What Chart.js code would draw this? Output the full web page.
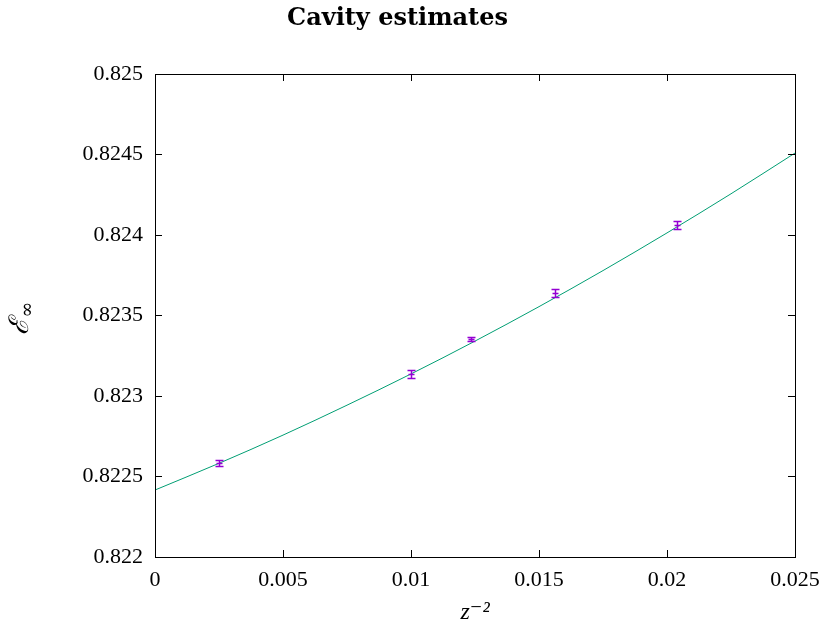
<!DOCTYPE html>
<html lang="en">
<head>
    <meta charset="UTF-8">
    <title>Cavity estimates</title>
    <script src="https://cdn.jsdelivr.net/npm/chart.js"></script>
    <style>
        body { margin: 0; background: #fff; }
        #wrap { width: 824px; height: 632px; }
    </style>
</head>
<body>
    <div id="wrap"><canvas id="cavityChart" width="824" height="632"></canvas></div>

    <script>
        // measured estimates (x = z^-2)
        const zInvSq = [0.0025, 0.01, 0.012346, 0.015625, 0.020408];
        const energy = [0.822584, 0.823137, 0.823354, 0.823640, 0.824062];
        const energyErr = [0.000018, 0.000025, 0.000012, 0.000025, 0.000025];

        // fitted curve
        const fitX = [0, 0.0025, 0.005, 0.0075, 0.01, 0.0125, 0.015, 0.0175, 0.02, 0.0225, 0.025];
        const fitY = [0.822416, 0.822582, 0.822757, 0.822943, 0.823137, 0.823341, 0.823555, 0.823779, 0.824013, 0.824256, 0.824509];

        const xTicks = [0, 0.005, 0.01, 0.015, 0.02, 0.025];
        const xTickLabels = ['0', '0.005', '0.01', '0.015', '0.02', '0.025'];
        const yTicks = [0.822, 0.8225, 0.823, 0.8235, 0.824, 0.8245, 0.825];
        const yTickLabels = ['0.822', '0.8225', '0.823', '0.8235', '0.824', '0.8245', '0.825'];

        const serif = "'Liberation Serif', 'DejaVu Serif', serif";

        function labelFor(values, labels) {
            return v => {
                const i = values.findIndex(t => Math.abs(t - v) < 1e-9);
                return i >= 0 ? labels[i] : '';
            };
        }

        // frame, inward ticks, error bars, y axis label
        const gnuplotLook = {
            id: 'gnuplotLook',
            afterDatasetsDraw(chart) {
                const ctx = chart.ctx;
                const xs = chart.scales.x, ys = chart.scales.y;
                const a = chart.chartArea;

                // error bars
                ctx.save();
                ctx.strokeStyle = '#9400d3';
                ctx.lineWidth = 1.5;
                zInvSq.forEach((x, i) => {
                    const px = Math.round(xs.getPixelForValue(x)) + 0.5;
                    const yHi = Math.round(ys.getPixelForValue(energy[i] + energyErr[i])) + 0.5;
                    const yLo = Math.round(ys.getPixelForValue(energy[i] - energyErr[i])) + 0.5;
                    const yc = Math.round(ys.getPixelForValue(energy[i])) + 0.5;
                    ctx.beginPath();
                    ctx.moveTo(px, yHi); ctx.lineTo(px, yLo);
                    ctx.moveTo(px - 4, yHi); ctx.lineTo(px + 4, yHi);
                    ctx.moveTo(px - 4, yLo); ctx.lineTo(px + 4, yLo);
                    ctx.moveTo(px - 3, yc); ctx.lineTo(px + 3, yc);
                    ctx.stroke();
                });
                ctx.restore();

                // frame
                ctx.save();
                ctx.strokeStyle = '#000';
                ctx.lineWidth = 1;
                ctx.strokeRect(Math.round(a.left) + 0.5, Math.round(a.top) + 0.5,
                    Math.round(a.right - a.left), Math.round(a.bottom - a.top));
                ctx.beginPath();
                xTicks.forEach(v => {
                    const px = Math.round(xs.getPixelForValue(v)) + 0.5;
                    ctx.moveTo(px, a.bottom); ctx.lineTo(px, a.bottom - 7);
                    ctx.moveTo(px, a.top); ctx.lineTo(px, a.top + 7);
                });
                yTicks.forEach(v => {
                    const py = Math.round(ys.getPixelForValue(v)) + 0.5;
                    ctx.moveTo(a.left, py); ctx.lineTo(a.left + 7, py);
                    ctx.moveTo(a.right, py); ctx.lineTo(a.right - 7, py);
                });
                ctx.stroke();

                // y axis label: script E with infinity subscript
                ctx.translate(0, (a.top + a.bottom) / 2);
                ctx.rotate(-Math.PI / 2);
                ctx.fillStyle = '#000';
                ctx.textBaseline = 'alphabetic';
                ctx.textAlign = 'center';
                ctx.font = "italic 27px 'DejaVu Serif', serif";
                ctx.fillText('\u2130', -11, 28);
                ctx.font = "19px 'DejaVu Serif', serif";
                ctx.fillText('\u221E', 6, 33);
                ctx.restore();
            }
        };

        const ctx = document.getElementById('cavityChart').getContext('2d');
        new Chart(ctx, {
            type: 'scatter',
            data: {
                datasets: [{
                    label: 'fit',
                    type: 'line',
                    data: fitX.map((x, i) => ({ x: x, y: fitY[i] })),
                    borderColor: '#009e73',
                    borderWidth: 1,
                    pointRadius: 0,
                    cubicInterpolationMode: 'monotone',
                    fill: false
                }, {
                    label: 'estimates',
                    data: zInvSq.map((x, i) => ({ x: x, y: energy[i] })),
                    pointRadius: 0,
                    borderColor: '#9400d3',
                    backgroundColor: '#9400d3'
                }]
            },
            options: {
                responsive: false,
                animation: false,
                layout: { padding: { left: 0, right: 29, top: 0, bottom: 0 } },
                plugins: {
                    legend: { display: false },
                    tooltip: { enabled: false },
                    title: {
                        display: true,
                        text: 'Cavity estimates',
                        color: '#000',
                        font: { family: "'DejaVu Serif', serif", size: 24, weight: 'bold' },
                        padding: { top: 4, bottom: 41.2 }
                    }
                },
                scales: {
                    x: {
                        type: 'linear',
                        min: 0,
                        max: 0.025,
                        grid: { display: false, drawTicks: false },
                        border: { display: false },
                        afterBuildTicks: s => { s.ticks = xTicks.map(v => ({ value: v })); },
                        afterFit: s => { s.height = 75; s.paddingRight = 0; s.paddingLeft = 0; },
                        ticks: {
                            color: '#000',
                            padding: 10,
                            maxRotation: 0,
                            font: { family: serif, size: 22 },
                            callback: labelFor(xTicks, xTickLabels)
                        },
                        title: {
                            display: true,
                            text: 'z\u207B\u00B2',
                            color: '#000',
                            font: { family: serif, size: 24, style: 'italic' },
                            padding: { top: 0, bottom: 5 }
                        }
                    },
                    y: {
                        type: 'linear',
                        min: 0.822,
                        max: 0.825,
                        grid: { display: false, drawTicks: false },
                        border: { display: false },
                        afterBuildTicks: s => { s.ticks = yTicks.map(v => ({ value: v })); },
                        afterFit: s => { s.width = 155; },
                        ticks: {
                            color: '#000',
                            padding: 12,
                            font: { family: serif, size: 22 },
                            callback: labelFor(yTicks, yTickLabels)
                        }
                    }
                }
            },
            plugins: [gnuplotLook]
        });
    </script>
</body>
</html>
